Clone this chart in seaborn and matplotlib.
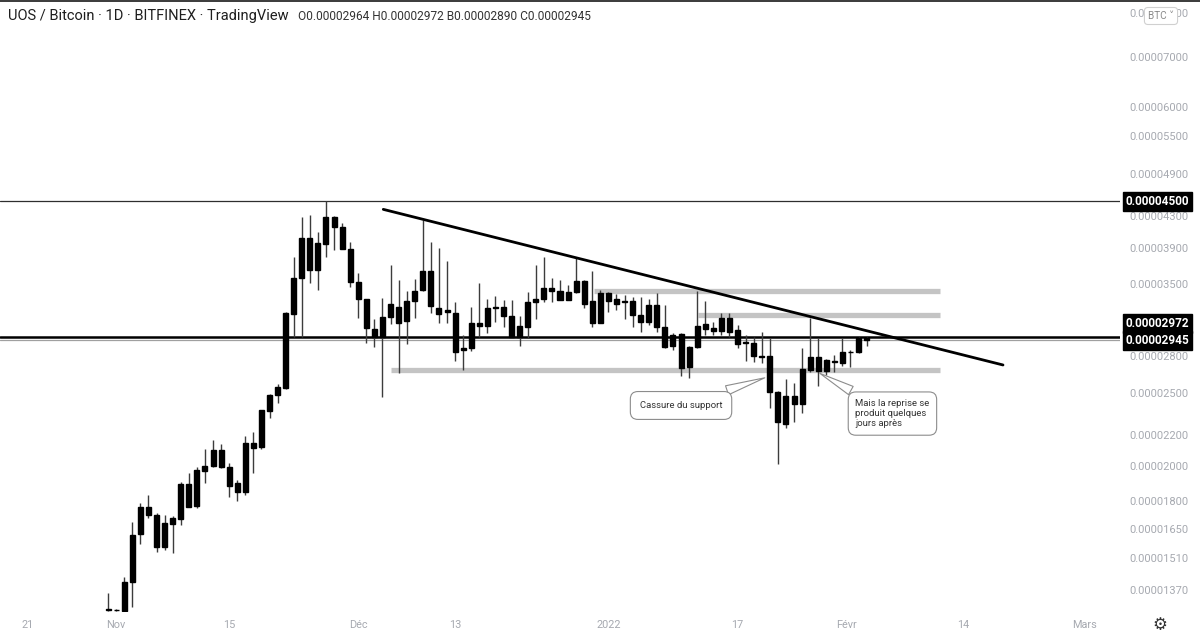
import numpy as np
import pandas as pd
import matplotlib
matplotlib.use("Agg")
import matplotlib.pyplot as plt
from matplotlib.lines import Line2D
import seaborn as sns

# ---------------- data (prices in 1e-8 BTC) ----------------
dates = pd.date_range("2021-10-31", "2022-02-02", freq="D")
opens = [1293, 1287, 1284, 1404, 1625, 1769, 1724, 1563, 1675, 1705,
         1894, 1772, 1975, 2002, 2104, 1995, 1900, 1852, 2118, 2120,
         2372, 2489, 2545, 3190, 3557, 4020, 3648, 3950, 4290, 4157,
         3890, 3520, 3335, 3042, 2969, 3160, 3255, 3124, 3318, 3431,
         3640, 3245, 3205, 3201, 2857, 2877, 3099, 3078, 3245, 3256,
         3165, 2969, 3067, 3311, 3338, 3456, 3424, 3328, 3410, 3531,
         3318, 3105, 3403, 3338, 3305, 3318, 3178, 3112, 3273, 3062,
         2895, 2999, 2708, 2880, 3050, 3052, 3025, 3153, 3040, 2915,
         2915, 2804, 2800, 2514, 2280, 2483, 2420, 2690, 2793, 2681,
         2750, 2745, 2842, 2835, 2964]
highs = [1358, 1293, 1427, 1688, 1789, 1830, 1736, 1724, 1716, 1909,
         1959, 1998, 2108, 2169, 2142, 2021, 1919, 2195, 2225, 2380,
         2495, 2570, 3205, 3798, 4292, 4315, 4101, 4500, 4310, 4207,
         3978, 3618, 3340, 3138, 3346, 3703, 3538, 3424, 3546, 4251,
         3978, 3898, 3750, 3311, 2989, 3255, 3502, 3335, 3372, 3328,
         3328, 3170, 3413, 3703, 3792, 3557, 3538, 3484, 3781, 3535,
         3640, 3430, 3410, 3390, 3375, 3359, 3362, 3338, 3396, 3278,
         3008, 3008, 2890, 3426, 3321, 3115, 3201, 3201, 3083, 2990,
         2972, 3020, 2967, 2520, 2614, 2584, 2872, 3147, 2960, 2779,
         2813, 2960, 2857, 2975, 2972]
lows = [1285, 1284, 1282, 1301, 1575, 1709, 1541, 1549, 1533, 1672,
        1767, 1762, 1903, 1998, 1991, 1820, 1801, 1832, 1959, 2112,
        2322, 2426, 2535, 2973, 2973, 3502, 3431, 3798, 3878, 3885,
        3465, 3147, 2915, 2884, 2476, 3092, 2664, 2908, 3147, 3425,
        3195, 3105, 3099, 2764, 2686, 2850, 2969, 3011, 3115, 3067,
        2965, 2890, 2960, 3138, 3311, 3311, 3325, 3325, 3400, 3245,
        3067, 3100, 3208, 3228, 3141, 3067, 3020, 3083, 3020, 2875,
        2857, 2639, 2622, 2870, 2990, 2990, 2990, 2972, 2872, 2762,
        2756, 2742, 2389, 2015, 2248, 2294, 2353, 2670, 2558, 2645,
        2672, 2719, 2708, 2830, 2890]
closes = [1287, 1290, 1406, 1621, 1769, 1722, 1562, 1681, 1707, 1894,
          1769, 1979, 2004, 2104, 1999, 1886, 1848, 2147, 2147, 2377,
          2489, 2553, 3201, 3557, 4020, 3648, 3958, 4286, 4157, 3890,
          3520, 3335, 3052, 2969, 3163, 3285, 3099, 3318, 3424, 3640,
          3267, 3190, 3232, 2842, 2877, 3099, 3078, 3245, 3256, 3168,
          2969, 3076, 3305, 3342, 3456, 3426, 3328, 3413, 3531, 3290,
          3105, 3403, 3321, 3290, 3318, 3178, 3112, 3278, 3067, 2879,
          2990, 2707, 2886, 3073, 3089, 3030, 3153, 3020, 2906, 2927,
          2804, 2796, 2514, 2294, 2483, 2419, 2694, 2793, 2681, 2771,
          2762, 2842, 2835, 2964, 2945]

# horizontal levels
resistance_level = 4500
last_high = 2972
last_close = 2945
# grey zones: level, start day, end day (days from 1 Nov 2021)
band_levels = [3421, 3183, 2686]
band_start = [59.2, 72.1, 34.0]
band_end = [102.1, 102.1, 102.1]
# descending trendline (day, price)
trend_days = [33.1, 109.9]
trend_prices = [4392, 2728]

y_ticks = [8000, 7000, 6000, 5500, 4900, 4300, 3900, 3500,
           2800, 2500, 2200, 2000, 1800, 1650, 1510, 1370]
x_tick_pos = [-11, 0, 14, 30, 42, 61, 77, 90.5, 105, 120]
x_tick_lab = ["21", "Nov", "15", "Déc", "13", "2022", "17", "Févr", "14", "Mars"]

title_txt = "UOS / Bitcoin · 1D · BITFINEX · TradingView"
ohlc_txt = "O0.00002964 H0.00002972 B0.00002890 C0.00002945"

note1 = "Cassure du support"
note1_tip = (80.7, 2630)
note1_pos = (70.0, 2410)
note2 = "Mais la reprise se\nproduit quelques\njours après"
note2_tip = (86.9, 2670)
note2_pos = (96.2, 2351)

# ---------------- figure ----------------
sns.set_theme(style="white")
plt.rcParams['font.family'] = ['Roboto', 'DejaVu Sans']

df = pd.DataFrame(dict(date=dates, open=opens, high=highs, low=lows, close=closes))
df["day"] = (df["date"] - pd.Timestamp("2021-11-01")).dt.days
df["body_lo"] = df[["open", "close"]].min(axis=1)
df["body_hi"] = df[["open", "close"]].max(axis=1)

W, H = 1200, 634
fig = plt.figure(figsize=(12, 6.34), dpi=100)
ax = fig.add_axes([0, 1 - 612 / H, 1120 / W, 612 / H])
ax.set_yscale("log")

# levels and zones
ax.hlines(band_levels, band_start, band_end, color="#c4c4c4", lw=3.8, zorder=1)
ax.axhline(resistance_level, color="#2e2e2e", lw=0.9, zorder=2)
ax.axhline(last_close, color="#a0a0a0", lw=0.9, zorder=2)
ax.axhline(last_high, color="black", lw=1.8, zorder=2)

# candles
ax.vlines(df["day"], df["low"], df["high"], color="#3c3c3c", lw=1.0, zorder=3)
ax.bar(df["day"], df["body_hi"] - df["body_lo"], bottom=df["body_lo"], width=0.62,
       color="black", edgecolor="black", linewidth=1.0, zorder=4)

# trendline
sns.lineplot(x=trend_days, y=trend_prices, ax=ax, color="black", lw=2.0, zorder=5)

ax.set_xlim(-14.4, 124.4)
ax.set_ylim(1281, 8335)

ax.yaxis.tick_right()
ax.set_yticks(y_ticks)
ax.set_yticklabels([f"{v * 1e-8:.8f}" for v in y_ticks])
ax.yaxis.set_minor_locator(matplotlib.ticker.NullLocator())
ax.tick_params(axis="y", length=0, pad=7, labelsize=8.0, labelcolor="#a6a9b0")
ax.set_xticks(x_tick_pos)
ax.set_xticklabels(x_tick_lab)
ax.tick_params(axis="x", length=0, pad=6, labelsize=7.8, labelcolor="#a6a9b0")
ax.set_xlabel("")
ax.set_ylabel("")
for s in ax.spines.values():
    s.set_visible(False)
ax.grid(False)

# price boxes on the scale
for lvl, dy in [(resistance_level, 0), (last_high, 9.4), (last_close, -0.6)]:
    ax.annotate(f"{lvl * 1e-8:.8f}", xy=(1, lvl), xycoords=("axes fraction", "data"),
                xytext=(4.0, dy), textcoords="offset points", ha="left", va="center",
                color="white", fontsize=8.5, fontweight="bold", annotation_clip=False,
                bbox=dict(boxstyle="square,pad=0.25", fc="black", ec="black"), zorder=10)

# callouts
ax.annotate(note1, xy=note1_tip, xytext=note1_pos, fontsize=6.8, color="#333333",
            ha="center", va="center",
            bbox=dict(boxstyle="round,pad=1.0,rounding_size=0.8", fc="white", ec="#8c8c8c", lw=0.8),
            arrowprops=dict(arrowstyle="wedge,tail_width=1.0", fc="white", ec="#8c8c8c", lw=0.8),
            zorder=8)
ax.annotate(note2, xy=note2_tip, xytext=note2_pos, fontsize=6.8, color="#333333",
            ha="center", va="center", multialignment="left", linespacing=1.15,
            bbox=dict(boxstyle="round,pad=0.75,rounding_size=0.8", fc="white", ec="#8c8c8c", lw=0.8),
            arrowprops=dict(arrowstyle="wedge,tail_width=1.0", fc="white", ec="#8c8c8c", lw=0.8),
            zorder=8)

# header texts
fig.text(8 / W, 1 - 16 / H, title_txt, fontsize=10.5, color="#1e1e1e", va="center", ha="left")
fig.text(298 / W, 1 - 16.5 / H, ohlc_txt, fontsize=8.6, color="#333333", va="center", ha="left")
fig.add_artist(Line2D([0, 1], [1 - 0.8 / H, 1 - 0.8 / H], color="#3a3a3a", lw=1.4))
fig.text(1161 / W, 1 - 16 / H, "BTC ˅", fontsize=7.2, color="#8a8a8a", ha="center", va="center",
         bbox=dict(boxstyle="round,pad=0.35", fc="white", ec="#d0d0d0", lw=0.8),
         family=["Roboto", "DejaVu Sans"])
fig.text(1160 / W, 1 - 625 / H, "⚙", fontsize=12, color="#333333", ha="center", va="center",
         family=["DejaVu Sans"])

fig.savefig("out.png", dpi=100, facecolor="white")
